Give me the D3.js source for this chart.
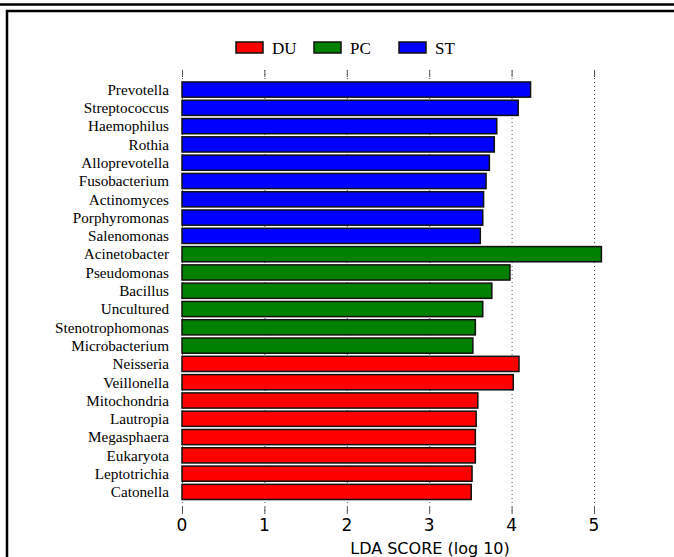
<!DOCTYPE html>
<html>
<head>
<meta charset="utf-8">
<script src="https://cdn.jsdelivr.net/npm/d3@7"></script>
<style>
  body { margin: 0; background: #fff; }
</style>
</head>
<body>
<script>
let width = 674
let height = 557

// taxa, top to bottom
const taxa = ['Prevotella', 'Streptococcus', 'Haemophilus', 'Rothia', 'Alloprevotella',
  'Fusobacterium', 'Actinomyces', 'Porphyromonas', 'Salenomonas',
  'Acinetobacter', 'Pseudomonas', 'Bacillus', 'Uncultured', 'Stenotrophomonas', 'Microbacterium',
  'Neisseria', 'Veillonella', 'Mitochondria', 'Lautropia', 'Megasphaera', 'Eukaryota',
  'Leptotrichia', 'Catonella']
const scores = [4.23, 4.08, 3.82, 3.79, 3.73, 3.69, 3.66, 3.65, 3.62,
  5.09, 3.98, 3.76, 3.65, 3.56, 3.53,
  4.09, 4.02, 3.59, 3.57, 3.56, 3.56, 3.52, 3.51]
const groupOf = ['ST', 'ST', 'ST', 'ST', 'ST', 'ST', 'ST', 'ST', 'ST',
  'PC', 'PC', 'PC', 'PC', 'PC', 'PC',
  'DU', 'DU', 'DU', 'DU', 'DU', 'DU', 'DU', 'DU']
const groups = ['DU', 'PC', 'ST']
const groupColors = ['#ff0000', '#008000', '#0000ff']
const xTicks = [0, 1, 2, 3, 4, 5]

const rows = taxa.map((t, i) => ({ name: t, score: scores[i], group: groupOf[i] }))

const svg = d3.select('body')
  .append('svg')
  .attr('width', width)
  .attr('height', height)

// frame lines
svg.append('line')
  .attr('x1', 0).attr('x2', width).attr('y1', 4.5).attr('y2', 4.5)
  .attr('stroke', '#000').attr('stroke-width', 2.5)
svg.append('path')
  .attr('d', `M7,${height} V11 H${width}`)
  .attr('fill', 'none').attr('stroke', '#000').attr('stroke-width', 2.5)

const x = d3.scaleLinear().domain([0, 5]).range([182, 594])
const y = d3.scaleBand().domain(taxa).range([80.5, 501]).paddingInner(0.17).paddingOuter(0.08)
const color = d3.scaleOrdinal().domain(groups).range(groupColors)

// dotted grid
svg.append('g').selectAll('line')
  .data(xTicks)
  .enter()
  .append('line')
    .attr('x1', d => x(d) + 0.5).attr('x2', d => x(d) + 0.5)
    .attr('y1', 70).attr('y2', 514)
    .attr('stroke', '#555')
    .attr('stroke-width', 1)
    .attr('stroke-dasharray', '1,3')

// tick marks top and bottom
const tickG = svg.append('g')
tickG.selectAll('.tt')
  .data(xTicks)
  .enter()
  .append('line')
    .attr('x1', d => x(d) + 0.5).attr('x2', d => x(d) + 0.5)
    .attr('y1', 70).attr('y2', 77)
    .attr('stroke', '#555')
tickG.selectAll('.bt')
  .data(xTicks)
  .enter()
  .append('line')
    .attr('x1', d => x(d) + 0.5).attr('x2', d => x(d) + 0.5)
    .attr('y1', 507).attr('y2', 514)
    .attr('stroke', '#555')

// bars
svg.append('g').selectAll('rect')
  .data(rows)
  .enter()
  .append('rect')
    .attr('x', x(0))
    .attr('y', d => y(d.name))
    .attr('width', d => x(d.score) - x(0))
    .attr('height', y.bandwidth())
    .attr('fill', d => color(d.group))
    .attr('stroke', '#111')
    .attr('stroke-width', 1.5)

// taxa labels
svg.append('g').selectAll('text')
  .data(rows)
  .enter()
  .append('text')
    .attr('x', 169)
    .attr('y', d => y(d.name) + y.bandwidth() / 2)
    .attr('dy', '0.35em')
    .attr('text-anchor', 'end')
    .style('font-family', '"Liberation Serif", "Times New Roman", serif')
    .style('font-size', '15.2px')
    .text(d => d.name)

// x tick labels
svg.append('g').selectAll('text')
  .data(xTicks)
  .enter()
  .append('text')
    .attr('x', d => x(d))
    .attr('y', 531)
    .attr('text-anchor', 'middle')
    .style('font-family', '"DejaVu Sans", sans-serif')
    .style('font-size', '17px')
    .text(d => d)

svg.append('text')
  .attr('x', 430)
  .attr('y', 554)
  .attr('text-anchor', 'middle')
  .style('font-family', '"DejaVu Sans", sans-serif')
  .style('font-size', '16px')
  .text('LDA SCORE (log 10)')

// legend
const legendX = [236, 314, 399]
const legend = svg.append('g').selectAll('g')
  .data(groups)
  .enter()
  .append('g')
    .attr('transform', (d, i) => `translate(${legendX[i]},42)`)
legend.append('rect')
  .attr('width', 27).attr('height', 11)
  .attr('fill', d => color(d))
  .attr('stroke', '#111').attr('stroke-width', 1.5)
legend.append('text')
  .attr('x', 36)
  .attr('y', 11.5)
  .style('font-family', '"Liberation Serif", "Times New Roman", serif')
  .style('font-size', '17px')
  .text(d => d)
</script>
</body>
</html>
